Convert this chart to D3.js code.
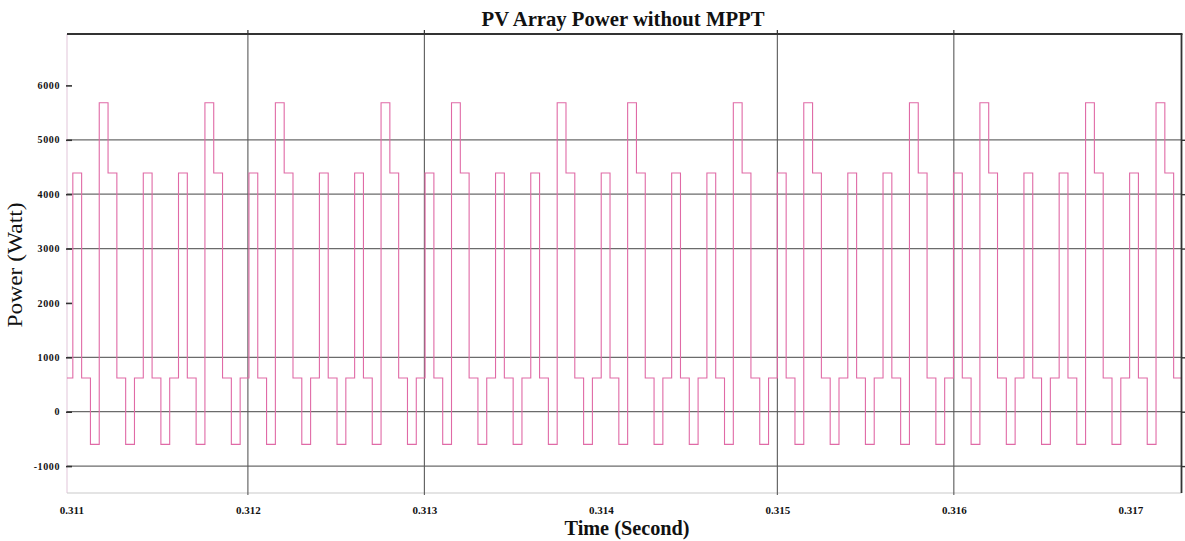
<!DOCTYPE html>
<html><head><meta charset="utf-8">
<script src="https://cdn.jsdelivr.net/npm/d3@7/dist/d3.min.js"></script>
<style>
body{margin:0;background:#fff;}
text{font-family:"Liberation Serif","Times New Roman",serif;fill:#111;}
</style>
</head><body>
<svg id="chart" width="1185" height="541"></svg>
<script>
// ---- data ----
const titleText = "PV Array Power without MPPT";
const xLabelText = "Time (Second)";
const yLabelText = "Power (Watt)";

const xTicks = [0.311, 0.312, 0.313, 0.314, 0.315, 0.316, 0.317];
const xTickLabels = ["0.311", "0.312", "0.313", "0.314", "0.315", "0.316", "0.317"];
const xGridLines = [0.312, 0.313, 0.315, 0.316];

const yTicks = [-1000, 0, 1000, 2000, 3000, 4000, 5000, 6000];
const yTickLabels = ["-1000", "0", "1000", "2000", "3000", "4000", "5000", "6000"];
const yGridLines = [-1000, 0, 1000, 3000, 4000, 5000];

const xDomain = [0.310975, 0.31729];
const yDomain = [-1495, 6945];

// step signal: first value holds until firstSwitch, then one value per sample
const firstSwitch = 0.311008;
const sampleTime = 0.0000499;
const powerLevels = [
  620,
  4390, 620, -600,
  5680, 4390, 620, -600,
  620, 4390, 620, -600,
  620, 4390, 620, -600,
  5680, 4390, 620, -600,
  620, 4390, 620, -600,
  5680, 4390, 620, -600,
  620, 4390, 620, -600,
  620, 4390, 620, -600,
  5680, 4390, 620, -600,
  620, 4390, 620, -600,
  5680, 4390, 620, -600,
  620, 4390, 620, -600,
  620, 4390, 620, -600,
  5680, 4390, 620, -600,
  620, 4390, 620, -600,
  5680, 4390, 620, -600,
  620, 4390, 620, -600,
  620, 4390, 620, -600,
  5680, 4390, 620, -600,
  620, 4390, 620, -600,
  5680, 4390, 620, -600,
  620, 4390, 620, -600,
  620, 4390, 620, -600,
  5680, 4390, 620, -600,
  620, 4390, 620, -600,
  5680, 4390, 620, -600,
  620, 4390, 620, -600,
  620, 4390, 620, -600,
  5680, 4390, 620, -600,
  620, 4390, 620, -600,
  5680, 4390, 620
];

// ---- layout ----
const W = 1185, H = 541;
const plot = {left: 67, right: 1181.5, top: 34, bottom: 493};

const svg = d3.select("#chart");
const x = d3.scaleLinear().domain(xDomain).range([plot.left, plot.right]);
const y = d3.scaleLinear().domain(yDomain).range([plot.bottom, plot.top]);

// light frame (left / bottom)
svg.append("line").attr("x1", plot.left).attr("x2", plot.left)
  .attr("y1", plot.top).attr("y2", plot.bottom)
  .attr("stroke", "#e6cfe0").attr("stroke-width", 1.2);
svg.append("line").attr("x1", plot.left).attr("x2", plot.right)
  .attr("y1", plot.bottom).attr("y2", plot.bottom)
  .attr("stroke", "#c9c9c9").attr("stroke-width", 1.2);

// grid
const gGrid = svg.append("g");
gGrid.selectAll("line.h").data(yGridLines).join("line").attr("class", "h")
  .attr("x1", plot.left).attr("x2", plot.right)
  .attr("y1", d => y(d)).attr("y2", d => y(d))
  .attr("stroke", "#6b6b6b").attr("stroke-width", 1.3);
gGrid.selectAll("line.v").data(xGridLines).join("line").attr("class", "v")
  .attr("x1", d => x(d)).attr("x2", d => x(d))
  .attr("y1", plot.top).attr("y2", plot.bottom + 2)
  .attr("stroke", "#5a5a5a").attr("stroke-width", 1.1);

// y axis ticks (left & right) via d3 axes
const yAxisL = d3.axisLeft(y).tickValues(yTicks).tickSize(6)
  .tickFormat((d, i) => yTickLabels[i]);
const gyl = svg.append("g").attr("transform", `translate(${plot.left + 5},0)`).call(yAxisL);
gyl.select(".domain").remove();
gyl.selectAll(".tick line").attr("stroke", "#333").attr("stroke-width", 1.6).attr("x2", -6).attr("x1", 0);
gyl.selectAll(".tick text")
  .attr("x", -12)
  .style("font-family", "'Liberation Serif',serif")
  .style("font-size", "10px").style("font-weight", "bold")
  .style("letter-spacing", "0.6px").attr("fill", "#222");

const yAxisR = d3.axisRight(y).tickValues(yGridLines).tickSize(4).tickFormat("");
const gyr = svg.append("g").attr("transform", `translate(${plot.right},0)`).call(yAxisR);
gyr.select(".domain").remove();
gyr.selectAll(".tick line").attr("stroke", "#333").attr("stroke-width", 1.4);

// x axis labels
const xAxis = d3.axisBottom(x).tickValues(xTicks).tickSize(0)
  .tickFormat((d, i) => xTickLabels[i]);
const gx = svg.append("g").attr("transform", `translate(0,${plot.bottom})`).call(xAxis);
gx.select(".domain").remove();
gx.selectAll(".tick text")
  .attr("y", 13)
  .style("font-family", "'Liberation Serif',serif")
  .style("font-size", "11px").style("font-weight", "bold")
  .attr("fill", "#222");

// signal
const pts = [[xDomain[0], powerLevels[0]]];
for (let i = 1; i < powerLevels.length; i++) {
  pts.push([firstSwitch + (i - 1) * sampleTime, powerLevels[i]]);
}
pts.push([xDomain[1], powerLevels[powerLevels.length - 1]]);

const line = d3.line().x(d => x(d[0])).y(d => y(d[1])).curve(d3.curveStepAfter);
svg.append("path").datum(pts)
  .attr("d", line)
  .attr("fill", "none")
  .attr("stroke", "#e06aa6")
  .attr("stroke-width", 1.1);

// dark frame (top / right)
svg.append("line").attr("x1", plot.left).attr("x2", plot.right + 1)
  .attr("y1", plot.top).attr("y2", plot.top)
  .attr("stroke", "#333").attr("stroke-width", 1.8);
svg.append("line").attr("x1", plot.right).attr("x2", plot.right)
  .attr("y1", plot.top).attr("y2", plot.bottom)
  .attr("stroke", "#333").attr("stroke-width", 1.8);
// small top ticks at grid positions
svg.selectAll("line.tt").data(xGridLines).join("line").attr("class", "tt")
  .attr("x1", d => x(d)).attr("x2", d => x(d))
  .attr("y1", plot.top - 4).attr("y2", plot.top)
  .attr("stroke", "#333").attr("stroke-width", 1.2);

// titles
svg.append("text").attr("x", 623).attr("y", 26)
  .attr("text-anchor", "middle")
  .style("font-size", "20px").style("font-weight", "bold")
  .attr("textLength", 283).attr("lengthAdjust", "spacingAndGlyphs")
  .text(titleText);
svg.append("text").attr("x", 627).attr("y", 535)
  .attr("text-anchor", "middle")
  .style("font-size", "20px").style("font-weight", "bold")
  .attr("textLength", 125).attr("lengthAdjust", "spacingAndGlyphs")
  .text(xLabelText);
svg.append("text")
  .attr("transform", "translate(22,265) rotate(-90)")
  .attr("text-anchor", "middle")
  .style("font-size", "21px")
  .attr("textLength", 125).attr("lengthAdjust", "spacingAndGlyphs")
  .text(yLabelText);
</script>
</body></html>
